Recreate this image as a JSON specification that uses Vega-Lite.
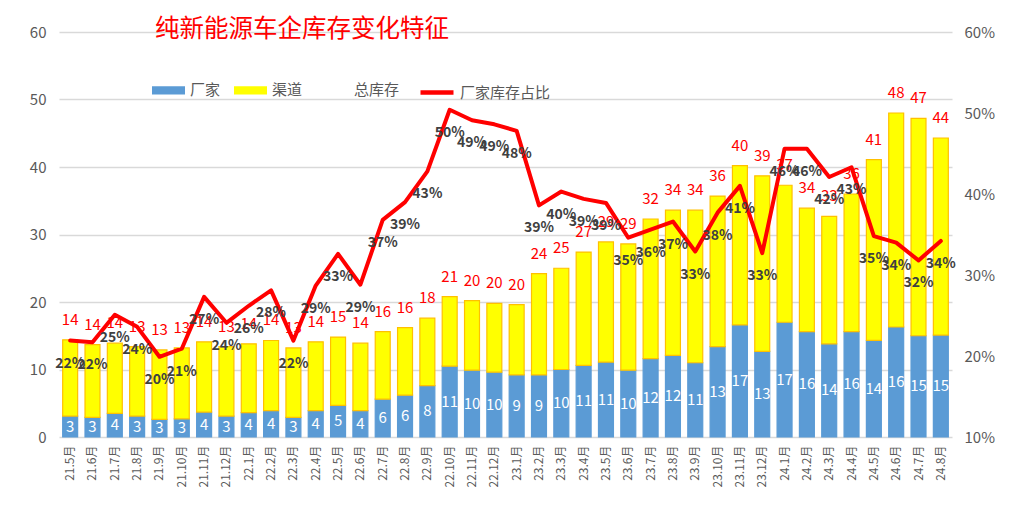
{
  "$schema": "https://vega.github.io/schema/vega-lite/v6.json",
  "width": 893,
  "height": 405,
  "autosize": {"type": "none"},
  "padding": {"left": 59, "top": 32, "right": 63, "bottom": 83},
  "background": "white",
  "title": {"text": "纯新能源车企库存变化特征", "anchor": "start", "frame": "group", "dx": 96, "offset": -17, "color": "#FF0000", "fontSize": 24.5, "fontWeight": "normal", "font": "Noto Sans CJK SC"},
  "data": {"values": [
    {"月份": "21.5月", "厂家": 3.1, "渠道": 11.3, "总库存": 14.4, "占比": 0.219},
    {"月份": "21.6月", "厂家": 2.9, "渠道": 10.8, "总库存": 13.7, "占比": 0.217},
    {"月份": "21.7月", "厂家": 3.5, "渠道": 10.4, "总库存": 13.9, "占比": 0.251},
    {"月份": "21.8月", "厂家": 3.1, "渠道": 10.3, "总库存": 13.4, "占比": 0.236},
    {"月份": "21.9月", "厂家": 2.6, "渠道": 10.3, "总库存": 12.9, "占比": 0.199},
    {"月份": "21.10月", "厂家": 2.7, "渠道": 10.5, "总库存": 13.2, "占比": 0.209},
    {"月份": "21.11月", "厂家": 3.7, "渠道": 10.4, "总库存": 14.1, "占比": 0.273},
    {"月份": "21.12月", "厂家": 3.1, "渠道": 10.3, "总库存": 13.4, "占比": 0.241},
    {"月份": "22.1月", "厂家": 3.6, "渠道": 10.2, "总库存": 13.8, "占比": 0.262},
    {"月份": "22.2月", "厂家": 3.9, "渠道": 10.4, "总库存": 14.3, "占比": 0.281},
    {"月份": "22.3月", "厂家": 2.9, "渠道": 10.3, "总库存": 13.2, "占比": 0.219},
    {"月份": "22.4月", "厂家": 3.9, "渠道": 10.2, "总库存": 14.1, "占比": 0.287},
    {"月份": "22.5月", "厂家": 4.7, "渠道": 10.1, "总库存": 14.8, "占比": 0.326},
    {"月份": "22.6月", "厂家": 3.9, "渠道": 10.0, "总库存": 13.9, "占比": 0.288},
    {"月份": "22.7月", "厂家": 5.6, "渠道": 10.0, "总库存": 15.6, "占比": 0.368},
    {"月份": "22.8月", "厂家": 6.2, "渠道": 10.0, "总库存": 16.2, "占比": 0.390},
    {"月份": "22.9月", "厂家": 7.6, "渠道": 10.0, "总库存": 17.6, "占比": 0.428},
    {"月份": "22.10月", "厂家": 10.5, "渠道": 10.3, "总库存": 20.8, "占比": 0.504},
    {"月份": "22.11月", "厂家": 9.9, "渠道": 10.3, "总库存": 20.2, "占比": 0.491},
    {"月份": "22.12月", "厂家": 9.6, "渠道": 10.2, "总库存": 19.8, "占比": 0.486},
    {"月份": "23.1月", "厂家": 9.2, "渠道": 10.4, "总库存": 19.6, "占比": 0.478},
    {"月份": "23.2月", "厂家": 9.2, "渠道": 15.0, "总库存": 24.2, "占比": 0.386},
    {"月份": "23.3月", "厂家": 10.0, "渠道": 15.0, "总库存": 25.0, "占比": 0.403},
    {"月份": "23.4月", "厂家": 10.6, "渠道": 16.8, "总库存": 27.4, "占比": 0.394},
    {"月份": "23.5月", "厂家": 11.1, "渠道": 17.8, "总库存": 28.9, "占比": 0.389},
    {"月份": "23.6月", "厂家": 9.9, "渠道": 18.7, "总库存": 28.6, "占比": 0.346},
    {"月份": "23.7月", "厂家": 11.6, "渠道": 20.7, "总库存": 32.3, "占比": 0.356},
    {"月份": "23.8月", "厂家": 12.1, "渠道": 21.5, "总库存": 33.6, "占比": 0.366},
    {"月份": "23.9月", "厂家": 11.0, "渠道": 22.6, "总库存": 33.6, "占比": 0.329},
    {"月份": "23.10月", "厂家": 13.4, "渠道": 22.3, "总库存": 35.7, "占比": 0.377},
    {"月份": "23.11月", "厂家": 16.6, "渠道": 23.6, "总库存": 40.2, "占比": 0.410},
    {"月份": "23.12月", "厂家": 12.7, "渠道": 26.0, "总库存": 38.7, "占比": 0.327},
    {"月份": "24.1月", "厂家": 17.0, "渠道": 20.3, "总库存": 37.3, "占比": 0.456},
    {"月份": "24.2月", "厂家": 15.6, "渠道": 18.3, "总库存": 33.9, "占比": 0.456},
    {"月份": "24.3月", "厂家": 13.8, "渠道": 18.9, "总库存": 32.7, "占比": 0.421},
    {"月份": "24.4月", "厂家": 15.6, "渠道": 20.4, "总库存": 36.0, "占比": 0.433},
    {"月份": "24.5月", "厂家": 14.3, "渠道": 26.8, "总库存": 41.1, "占比": 0.348},
    {"月份": "24.6月", "厂家": 16.3, "渠道": 31.7, "总库存": 48.0, "占比": 0.340},
    {"月份": "24.7月", "厂家": 15.0, "渠道": 32.2, "总库存": 47.2, "占比": 0.318},
    {"月份": "24.8月", "厂家": 15.1, "渠道": 29.2, "总库存": 44.3, "占比": 0.342}
  ]},
  "encoding": {
    "x": {
      "field": "月份", "type": "ordinal", "sort": null,
      "scale": {"paddingInner": 0.33, "paddingOuter": 0.165},
      "axis": {"title": null, "labelAngle": -90, "labelFontSize": 12, "labelColor": "#595959", "ticks": false, "domain": false, "labelPadding": 8}
    }
  },
  "layer": [
    {
      "layer": [
        {
          "transform": [{"fold": ["厂家", "渠道"], "as": ["key", "value"]}],
          "mark": {"type": "bar", "strokeWidth": 1.2},
          "encoding": {
            "y": {
              "field": "value", "type": "quantitative", "stack": "zero",
              "scale": {"domain": [0, 60]},
              "axis": {"title": null, "values": [0, 10, 20, 30, 40, 50, 60], "grid": true, "gridColor": "#D9D9D9", "gridWidth": 1.3, "domain": false, "ticks": false, "labelPadding": 13, "labelFontSize": 15, "labelColor": "#595959"}
            },
            "order": {"field": "key", "type": "nominal", "sort": "ascending"},
            "color": {
              "field": "key", "type": "nominal",
              "scale": {"domain": ["厂家", "渠道", "总库存"], "range": ["#5B9BD5", "#FFFF00", "transparent"]},
              "legend": {
                "title": null, "orient": "none", "legendX": 93, "legendY": 41.5, "direction": "horizontal", "columns": 3,
                "symbolType": "M-1,-0.25H1V0.25H-1Z", "symbolSize": 1089, "symbolStrokeWidth": 0,
                "labelFontSize": 15, "labelColor": "#595959", "labelFont": "Noto Sans CJK SC",
                "labelOffset": 5, "columnPadding": 13, "padding": 0
              }
            },
            "stroke": {
              "field": "key", "type": "nominal",
              "scale": {"domain": ["厂家", "渠道", "总库存"], "range": ["#5B9BD5", "#FFC000", "transparent"]},
              "legend": null
            }
          }
        },
        {
          "mark": {"type": "text", "color": "#FFFFFF", "fontSize": 15, "baseline": "middle", "font": "Noto Sans CJK SC"},
          "encoding": {
            "y": {"field": "厂家", "type": "quantitative", "stack": "zero", "bandPosition": 0.5},
            "text": {"field": "厂家", "type": "quantitative", "format": ".0f"}
          }
        },
        {
          "mark": {"type": "text", "color": "#FF0000", "fontSize": 15, "baseline": "alphabetic", "dy": -15, "font": "Noto Sans CJK SC"},
          "encoding": {
            "y": {"field": "总库存", "type": "quantitative"},
            "text": {"field": "总库存", "type": "quantitative", "format": ".0f"}
          }
        }
      ]
    },
    {
      "layer": [
        {
          "mark": {"type": "line", "strokeWidth": 4, "strokeJoin": "round", "strokeCap": "round"},
          "encoding": {
            "y": {
              "field": "占比", "type": "quantitative",
              "scale": {"domain": [0.1, 0.6]},
              "axis": {"orient": "right", "title": null, "values": [0.1, 0.2, 0.3, 0.4, 0.5, 0.6], "format": ".0%", "grid": false, "domain": false, "ticks": false, "labelPadding": 12, "labelFontSize": 15, "labelColor": "#595959"}
            },
            "color": {
              "datum": "厂家库存占比", "type": "nominal",
              "scale": {"domain": ["厂家库存占比"], "range": ["#FF0000"]},
              "legend": {
                "title": null, "orient": "none", "legendX": 359, "legendY": 41.5, "direction": "horizontal",
                "symbolType": "stroke", "symbolSize": 1089, "symbolStrokeWidth": 4.5,
                "labelFontSize": 15, "labelColor": "#595959", "labelFont": "Noto Sans CJK SC",
                "labelOffset": 4, "padding": 0
              }
            }
          }
        },
        {
          "mark": {"type": "text", "color": "#404040", "fontSize": 14, "fontWeight": "bold", "baseline": "middle", "dy": 23, "font": "Noto Sans CJK SC"},
          "encoding": {
            "y": {"field": "占比", "type": "quantitative"},
            "text": {"field": "占比", "type": "quantitative", "format": ".0%"}
          }
        }
      ]
    }
  ],
  "resolve": {"scale": {"y": "independent", "color": "independent"}},
  "config": {
    "view": {"stroke": null},
    "axis": {"labelFont": "Noto Sans CJK SC"},
    "text": {"font": "Noto Sans CJK SC"}
  }
}
